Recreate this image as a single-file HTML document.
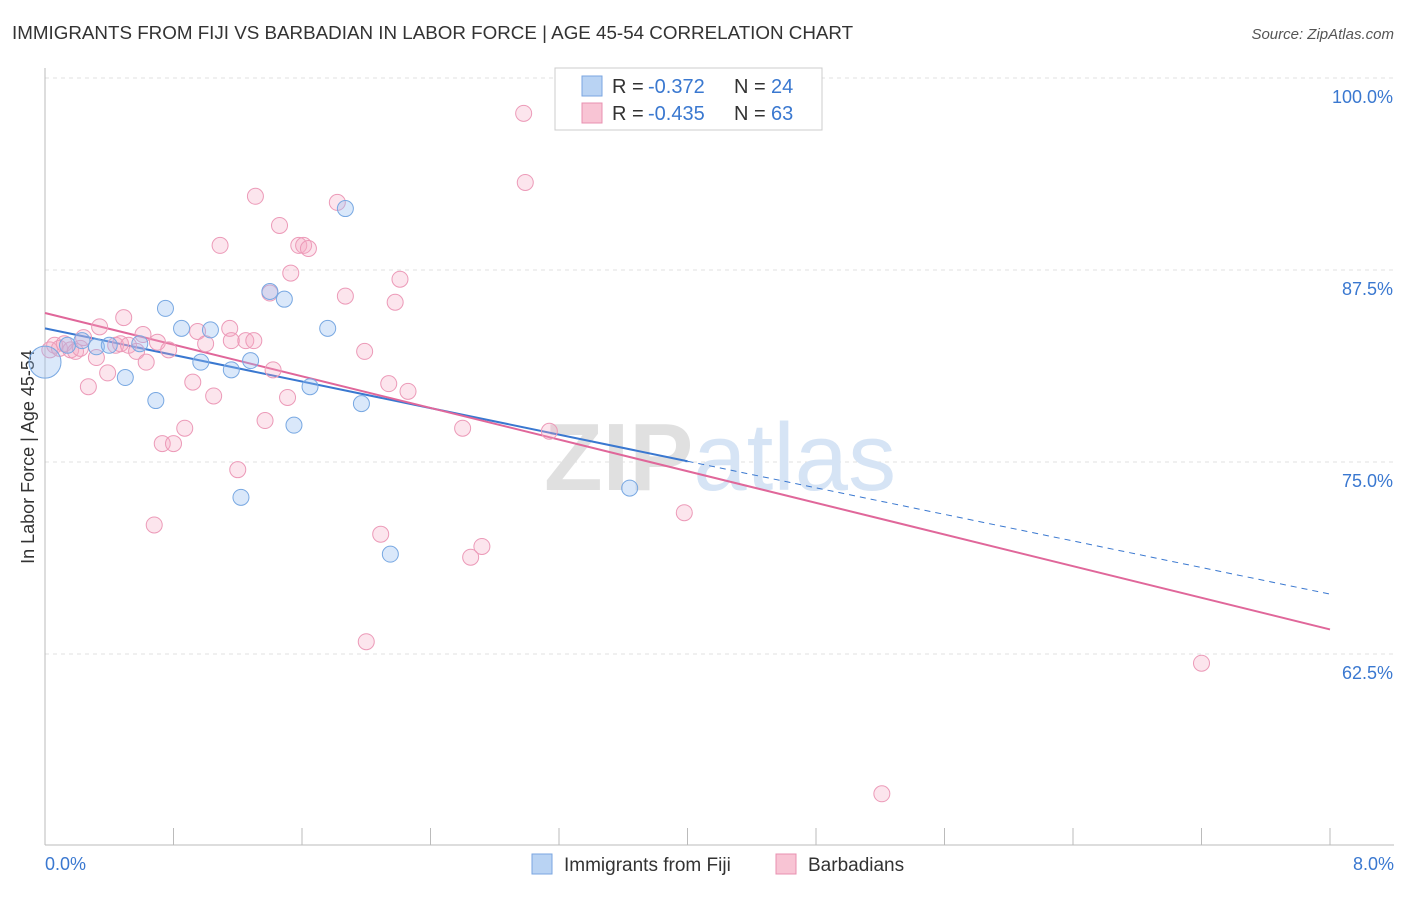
<!DOCTYPE html>
<html><head><meta charset="utf-8"><style>
body{margin:0;background:#fff;font-family:"Liberation Sans",sans-serif;}
</style></head><body>
<svg width="1406" height="892" xmlns="http://www.w3.org/2000/svg" font-family="Liberation Sans, sans-serif">
<text x="12" y="39" font-size="18.8" fill="#333">IMMIGRANTS FROM FIJI VS BARBADIAN IN LABOR FORCE | AGE 45-54 CORRELATION CHART</text>
<text x="1394" y="39" font-size="15" fill="#555" font-style="italic" text-anchor="end">Source: ZipAtlas.com</text>
<g id="grid"></g>
<text x="720" y="490" font-size="96" font-weight="bold" fill="#e3e3e3" text-anchor="middle"><tspan fill="#e0e0e0">ZIP</tspan><tspan fill="#d6e4f5" font-weight="normal">atlas</tspan></text>
<text transform="translate(34,457) rotate(-90)" font-size="18" fill="#333" text-anchor="middle">In Labor Force | Age 45-54</text>
<text x="45" y="870" font-size="18" fill="#3a78d0">0.0%</text>
<text x="1394" y="870" font-size="18" fill="#3a78d0" text-anchor="end">8.0%</text>
<g id="lines"></g>
<g id="points"></g>
<g>
<rect x="555" y="68" width="267" height="62" fill="#fff" stroke="#ccc"/>
<rect x="582" y="76" width="20" height="20" fill="#b9d3f3" stroke="#7aa6e0"/>
<text x="612" y="93" font-size="20" fill="#333">R =</text>
<text x="648" y="93" font-size="20" fill="#3a78d0">-0.372</text>
<text x="734" y="93" font-size="20" fill="#333">N =</text>
<text x="771" y="93" font-size="20" fill="#3a78d0">24</text>
<rect x="582" y="103" width="20" height="20" fill="#f8c4d4" stroke="#e890b0"/>
<text x="612" y="120" font-size="20" fill="#333">R =</text>
<text x="648" y="120" font-size="20" fill="#3a78d0">-0.435</text>
<text x="734" y="120" font-size="20" fill="#333">N =</text>
<text x="771" y="120" font-size="20" fill="#3a78d0">63</text>
</g>
<g>
<rect x="532" y="854" width="20" height="20" fill="#b9d3f3" stroke="#7aa6e0"/>
<text x="564" y="871" font-size="19" fill="#333">Immigrants from Fiji</text>
<rect x="776" y="854" width="20" height="20" fill="#f8c4d4" stroke="#e890b0"/>
<text x="808" y="871" font-size="19" fill="#333">Barbadians</text>
</g>
</svg>
<script>
const fijiX=[0.00,0.14,0.23,0.32,0.40,0.50,0.59,0.69,0.75,0.85,0.97,1.03,1.16,1.22,1.28,1.40,1.49,1.55,1.65,1.76,1.87,1.97,2.15,3.64];
const fijiY=[81.5,82.6,82.9,82.5,82.6,80.5,82.7,79.0,85.0,83.7,81.5,83.6,81.0,72.7,81.6,86.1,85.6,77.4,79.9,83.7,91.5,78.8,69.0,73.3];
const barbX=[0.03,0.06,0.09,0.12,0.16,0.19,0.22,0.24,0.27,0.32,0.34,0.39,0.44,0.47,0.49,0.52,0.57,0.61,0.63,0.68,0.70,0.73,0.77,0.80,0.87,0.92,0.95,1.00,1.05,1.09,1.15,1.16,1.20,1.25,1.30,1.31,1.37,1.40,1.42,1.46,1.51,1.53,1.58,1.61,1.64,1.82,1.87,1.99,2.00,2.09,2.14,2.18,2.21,2.26,2.60,2.65,2.72,2.98,2.99,3.14,3.98,5.21,7.20];
const barbY=[82.3,82.6,82.4,82.7,82.3,82.2,82.4,83.1,79.9,81.8,83.8,80.8,82.6,82.7,84.4,82.6,82.2,83.3,81.5,70.9,82.8,76.2,82.3,76.2,77.2,80.2,83.5,82.7,79.3,89.1,83.7,82.9,74.5,82.9,82.9,92.3,77.7,86.0,81.0,90.4,79.2,87.3,89.1,89.1,88.9,91.9,85.8,82.2,63.3,70.3,80.1,85.4,86.9,79.6,77.2,68.8,69.5,97.7,93.2,77.0,71.7,53.4,61.9];
const yTicks=[100,87.5,75,62.5];
const yTickLabels=["100.0%","87.5%","75.0%","62.5%"];
const xTicks=[0,1,2,3,4,5,6,7,8,9,10];
const fijiTrend=[83.7,66.4];
const barbTrend=[84.7,64.1];
const NS="http://www.w3.org/2000/svg";
const sx=v=>45+v/8*1285;
const sy=v=>78+(100-v)*15.36;
function mk(tag,attrs,parent){const e=document.createElementNS(NS,tag);for(const k in attrs)e.setAttribute(k,attrs[k]);parent.appendChild(e);return e;}
const grid=document.getElementById('grid');
yTicks.forEach((t,i)=>{
 const l=mk('line',{x1:45,x2:1394,y1:sy(t),y2:sy(t),stroke:'#e0e0e0','stroke-dasharray':'4,4'},grid);
 
 
 const tx=mk('text',{x:1393,y:sy(t)+25,'font-size':18,fill:'#3a78d0','text-anchor':'end'},grid);
 tx.textContent=yTickLabels[i];
 
 
});
const ax=mk('line',{x1:45,x2:45,y1:68,y2:845,stroke:'#bbb'},grid);


const bx=mk('line',{x1:45,x2:1394,y1:845,y2:845,stroke:'#bbb'},grid);


xTicks.forEach(t=>{const p=45+t*128.5;if(p>1331)return;
 const l=mk('line',{x1:p,x2:p,y1:828,y2:845,stroke:'#bbb'},grid);
 
 });
const pts=document.getElementById('points');
barbX.forEach((x,i)=>{const c=mk('circle',{cx:sx(x),cy:sy(barbY[i]),r:8,fill:'rgba(244,170,195,0.3)',stroke:'#ec9ab8','stroke-width':1},pts);
 
 });
fijiX.forEach((x,i)=>{const c=mk('circle',{cx:sx(x),cy:sy(fijiY[i]),r:i==0?16:8,fill:'rgba(150,190,240,0.35)',stroke:'#78a8e2','stroke-width':1},pts);
 
 });
const ln=document.getElementById('lines');
const fy=x=>fijiTrend[0]+(fijiTrend[1]-fijiTrend[0])*x/8;
const l1=mk('line',{x1:sx(0),y1:sy(fy(0)),x2:sx(4),y2:sy(fy(4)),stroke:'#3a78d0','stroke-width':2},ln);


const l2=mk('line',{x1:sx(4),y1:sy(fy(4)),x2:sx(8),y2:sy(fy(8)),stroke:'#3a78d0','stroke-width':1,'stroke-dasharray':'6,5'},ln);


const l3=mk('line',{x1:sx(0),y1:sy(barbTrend[0]),x2:sx(8),y2:sy(barbTrend[1]),stroke:'#e0679a','stroke-width':2},ln);


</script>
</body></html>
